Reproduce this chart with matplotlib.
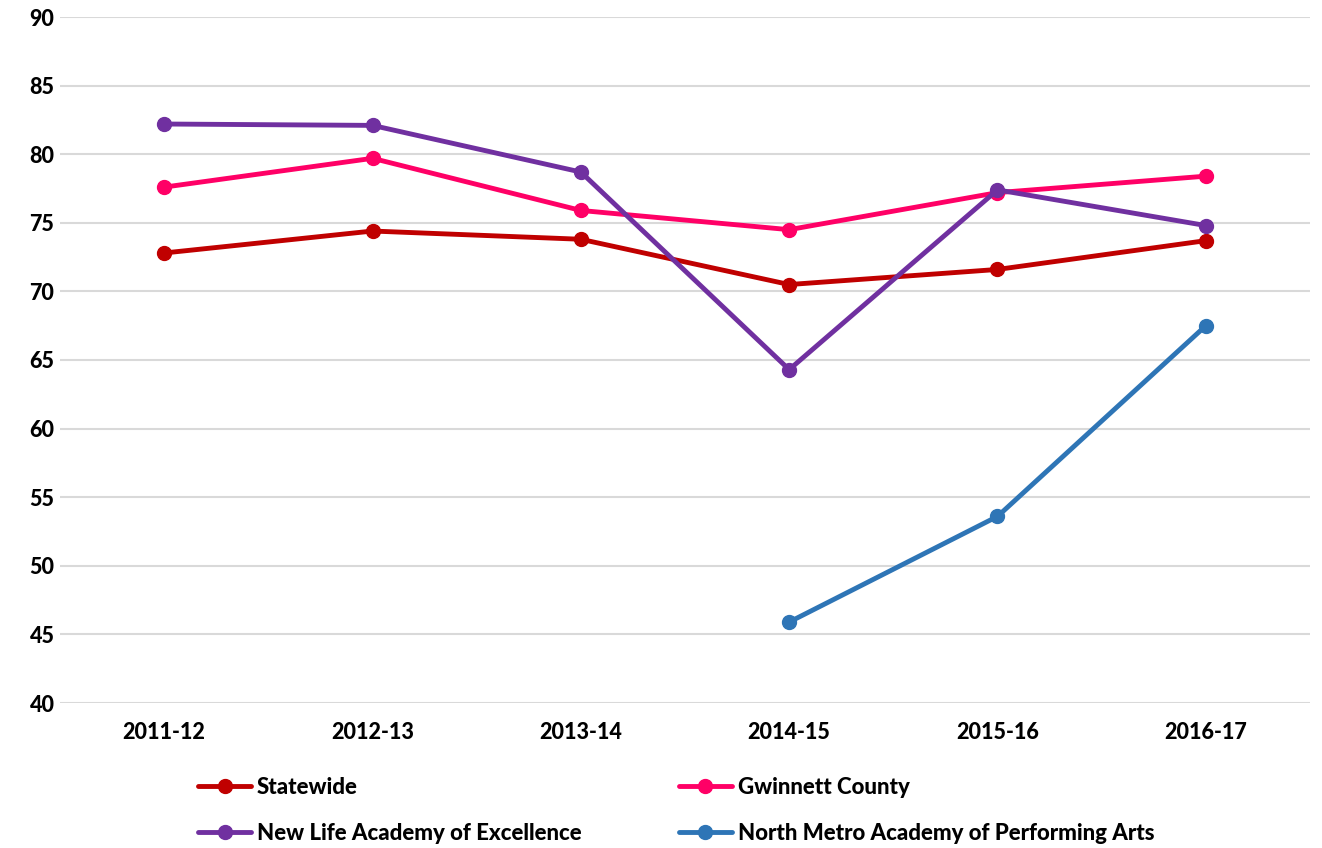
import matplotlib
matplotlib.use('Agg')
import matplotlib.pyplot as plt

# ─── DATA ─────────────────────────────────────────────────────────────────────
years = ['2011-12', '2012-13', '2013-14', '2014-15', '2015-16', '2016-17']
statewide = [72.8, 74.4, 73.8, 70.5, 71.6, 73.7]
gwinnett = [77.6, 79.7, 75.9, 74.5, 77.2, 78.4]
new_life = [82.2, 82.1, 78.7, 64.3, 77.4, 74.8]
north_metro = [None, None, None, 45.9, 53.6, 67.5]

plt.rcParams['font.family'] = ['Lato', 'DejaVu Sans']
plt.rcParams['font.weight'] = 900

fig = plt.figure(figsize=(13.22, 8.48), dpi=100)
ax = fig.add_axes([60 / 1322, 1 - 703 / 848, 1250 / 1322, 686 / 848])

x = list(range(len(years)))
series = [
    ('Statewide', statewide, '#C00000'),
    ('New Life Academy of Excellence', new_life, '#7030A0'),
    ('Gwinnett County', gwinnett, '#FF0066'),
    ('North Metro Academy of Performing Arts', north_metro, '#2E75B6'),
]
draw_order = [0, 2, 1, 3]
lines = {}
for i in draw_order:
    name, vals, color = series[i]
    xs = [xi for xi, v in zip(x, vals) if v is not None]
    ys = [v for v in vals if v is not None]
    ln, = ax.plot(xs, ys, color=color, lw=3.5, marker='o', markersize=10,
                  solid_capstyle='round', label=name)
    lines[name] = ln

ax.set_xlim(-0.5, 5.5)
ax.set_ylim(40, 90)
ax.set_yticks(range(40, 91, 5))
ax.set_xticks(x)
ax.set_xticklabels(years)
ax.grid(axis='y', color='#D9D9D9', lw=1.5)
ax.set_axisbelow(True)
for s in ax.spines.values():
    s.set_visible(False)
ax.tick_params(length=0, labelsize=15.5)
ax.tick_params(axis='x', pad=14)
ax.tick_params(axis='y', pad=4)

fig.legend([lines[s[0]] for s in series], [s[0] for s in series],
           ncol=2, loc='upper left', bbox_to_anchor=(187 / 1322, 1 - 766 / 848),
           frameon=False, fontsize=16, handlelength=2.4, handletextpad=0.25,
           columnspacing=4.37, labelspacing=1.1, borderpad=0)

fig.savefig('out.png', dpi=100)
